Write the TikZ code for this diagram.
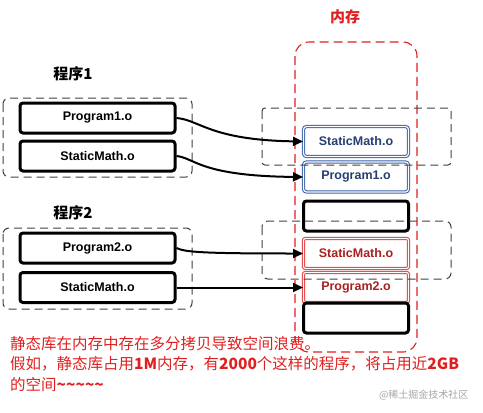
\documentclass[tikz,border=0pt]{standalone}
\usepackage{fontspec}
\setmainfont{Liberation Sans}
\newfontfamily\cjk{Noto Sans CJK SC}
\usetikzlibrary{arrows.meta}
\definecolor{memcolor}{HTML}{E02020}
\definecolor{bluebox}{HTML}{3A5FA8}
\definecolor{bluetxt}{HTML}{263E70}
\definecolor{redbox}{HTML}{E03A3A}
\definecolor{redtxt}{HTML}{A82020}
\tikzset{
  objbox/.style={draw=black, line width=3pt, rounded corners=3pt, minimum width=155pt, minimum height=30pt, font=\bfseries\fontsize{12.5}{13}\selectfont, inner sep=0pt},
  memblue/.style={draw=bluebox, double=white, double distance=1.2pt, line width=1pt, rounded corners=3pt, minimum width=105pt, minimum height=30pt, text=bluetxt, font=\bfseries\fontsize{12.5}{13}\selectfont, inner sep=0pt},
  memredbox/.style={draw=redbox, double=white, double distance=1.2pt, line width=1pt, rounded corners=2pt, minimum width=105pt, minimum height=30pt, text=redtxt, font=\bfseries\fontsize{12.5}{13}\selectfont, inner sep=0pt},
  memempty/.style={draw=black, line width=3pt, rounded corners=3pt, minimum width=105pt, minimum height=30pt, inner sep=0pt},
  grp/.style={draw=black!75, line width=1pt, dash pattern=on 8pt off 5pt, rounded corners=6pt},
  conn/.style={line width=2pt, -{Triangle[length=10pt,width=9pt]}},
  title/.style={font=\cjk\bfseries\fontsize{15}{17}\selectfont},
  note/.style={text=memcolor, font=\cjk\fontsize{15.5}{20.5}\selectfont, align=left, anchor=north west, inner sep=0pt}
}
\begin{document}
\begin{tikzpicture}[x=1pt,y=-1pt]
\useasboundingbox (0,0) rectangle (483,413);
% memory
\draw[draw=memcolor, line width=1.1pt, dash pattern=on 9pt off 5pt, rounded corners=14pt] (295,42) rectangle (417,352);
\node[title, text=memcolor] (memt) at (345,17) {内存};
% left group 1
\node[title] (t1) at (73,74) {程序1};
\draw[grp] (3,98) rectangle (192,177);
\node[objbox] (p1) at (97.5,118) {Program1.o};
\node[objbox] (s1) at (97.5,156) {StaticMath.o};
% left group 2
\node[title] (t2) at (73,213) {程序2};
\draw[grp] (3,228) rectangle (192,309);
\node[objbox] (p2) at (97.5,248) {Program2.o};
\node[objbox] (s2) at (97.5,287.5) {StaticMath.o};
% memory blocks
\node[memblue] (ms1) at (356,141.5) {StaticMath.o};
\node[memblue] (mp1) at (356,177) {Program1.o};
\node[memempty] (e1) at (356,216) {};
\node[memredbox] (ms2) at (356,253.5) {StaticMath.o};
\node[memredbox] (mp2) at (356,287.5) {Program2.o};
\node[memempty] (e2) at (356,318) {};
% right dashed groups
\draw[grp, rounded corners=3pt] (262,108) rectangle (451,165);
\draw[grp] (262,221) rectangle (451,279);
% connectors
\draw[conn] (p1.east) .. controls (200,120) and (210,140) .. (ms1.west);
\draw[conn] (s1.east) .. controls (195,158) and (200,176) .. (mp1.west);
\draw[conn] (p2.east) .. controls (185,252) and (200,253.5) .. (ms2.west);
\draw[conn] (s2.east) -- (mp2.west);
% notes
\node[note] (n) at (10,336) {静态库在内存中存在多分拷贝导致空间浪费。\\假如，静态库占用\textbf{1M}内存，有\textbf{2000}个这样的程序，将占用近\textbf{2GB}\\的空间\textbf{\char`\~\char`\~\char`\~\char`\~\char`\~}};
\node[text=black!35, font=\cjk\fontsize{10}{12}\selectfont, anchor=east] (wm) at (472,395) {@稀土掘金技术社区};
\end{tikzpicture}
\end{document}
